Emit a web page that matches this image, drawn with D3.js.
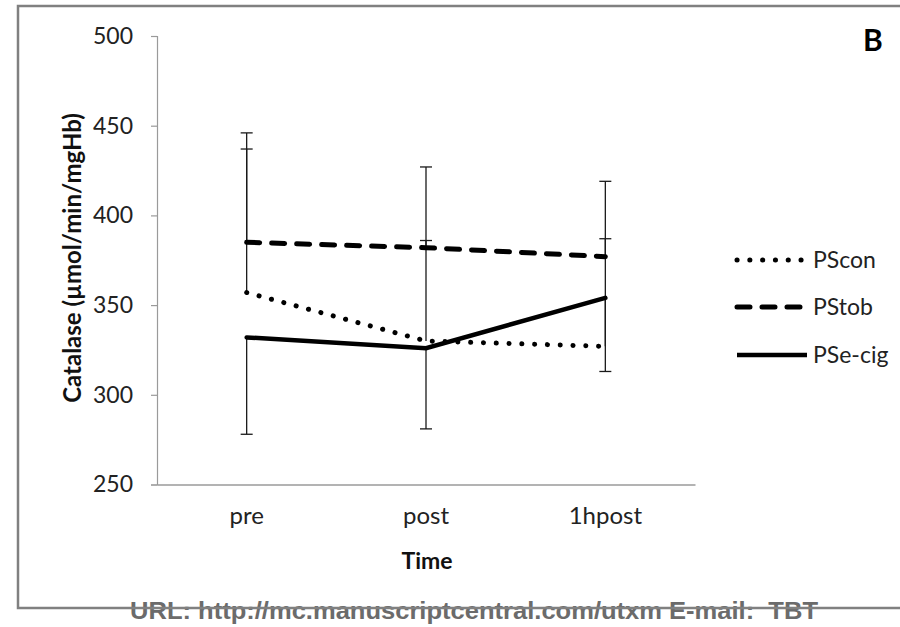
<!DOCTYPE html>
<html>
<head>
<meta charset="utf-8">
<script src="https://cdn.jsdelivr.net/npm/d3@7"></script>
<style>
  body { margin: 0; background: #fff; }
  svg { display: block; }
</style>
</head>
<body>
<div id="chart"></div>
<script>
var categories = ["pre", "post", "1hpost"];
var seriesNames = ["PScon", "PStob", "PSe-cig"];
var psCon = [357, 330, 327];
var psTob = [385, 382, 377];
var psEcig = [332, 326, 354];
// error bar ends (upper for con/tob, lower for e-cig)
var psConErr = [437, 386, 387];
var psTobErr = [446, 427, 419];
var psEcigErr = [278, 281, 313];
var yTicks = [250, 300, 350, 400, 450, 500];

var svgWidth = 900;
var svgHeight = 627;

var svg = d3.select("#chart")
    .append("svg")
    .attr("width", svgWidth)
    .attr("height", svgHeight);

var font = "Lato, 'Open Sans', sans-serif";

var x = d3.scaleBand()
    .domain(categories)
    .range([157, 695]);

var y = d3.scaleLinear()
    .domain([250, 500])
    .range([484.5, 36]);

var cx = d => x(d) + x.bandwidth() / 2;

// y axis
var yAxis = svg.append("g")
    .attr("transform", "translate(157,0)")
    .call(d3.axisLeft(y).tickValues(yTicks).tickSize(6).tickPadding(18));
yAxis.selectAll("path, line").attr("stroke", "#9a9a9a").attr("stroke-width", 1.2);
yAxis.selectAll("text")
    .attr("font-family", font)
    .attr("font-size", "23px")
    .attr("fill", "#222");

// x axis
var xAxis = svg.append("g")
    .attr("transform", "translate(0,484.5)")
    .call(d3.axisBottom(x).tickSize(0).tickPadding(22).tickSizeOuter(0));
xAxis.select("path").attr("stroke", "#9a9a9a").attr("stroke-width", 1.5);
xAxis.selectAll("text")
    .attr("font-family", font)
    .attr("font-size", "24px")
    .attr("fill", "#222");

// axis titles
svg.append("text")
    .attr("x", 427)
    .attr("y", 569)
    .attr("text-anchor", "middle")
    .attr("font-family", font)
    .attr("font-weight", "bold")
    .attr("font-size", "23px")
    .attr("fill", "#111")
    .text("Time");

svg.append("text")
    .attr("transform", "translate(81,258) rotate(-90)")
    .attr("text-anchor", "middle")
    .attr("font-family", font)
    .attr("font-weight", "bold")
    .attr("font-size", "24px")
    .attr("fill", "#111")
    .text("Catalase (µmol/min/mgHb)");

// error bars
var errData = [];
[[psCon, psConErr], [psTob, psTobErr], [psEcig, psEcigErr]].forEach(function (pair) {
    categories.forEach(function (c, i) {
        errData.push({ cat: c, mean: pair[0][i], end: pair[1][i] });
    });
});

var errG = svg.append("g")
    .attr("stroke", "#1a1a1a")
    .attr("stroke-width", 1.3);

errG.selectAll("line.v")
    .data(errData)
    .enter()
    .append("line")
    .attr("x1", d => cx(d.cat))
    .attr("x2", d => cx(d.cat))
    .attr("y1", d => y(d.mean))
    .attr("y2", d => y(d.end));

errG.selectAll("line.cap")
    .data(errData)
    .enter()
    .append("line")
    .attr("x1", d => cx(d.cat) - 6)
    .attr("x2", d => cx(d.cat) + 6)
    .attr("y1", d => y(d.end))
    .attr("y2", d => y(d.end));

// lines
var styles = [
    { dash: "0.1 12.7", width: 5 },
    { dash: "13 12", width: 5 },
    { dash: null, width: 4.5 }
];
var allSeries = [psCon, psTob, psEcig];

var line = d3.line()
    .x((d, i) => cx(categories[i]))
    .y(d => y(d));

allSeries.forEach(function (vals, k) {
    svg.append("path")
        .datum(vals)
        .attr("d", line)
        .attr("fill", "none")
        .attr("stroke", "#000")
        .attr("stroke-width", styles[k].width)
        .attr("stroke-linecap", "round")
        .attr("stroke-dasharray", styles[k].dash);
});

// legend
var legendY = [260, 307, 355];
var legend = svg.append("g");
seriesNames.forEach(function (name, k) {
    legend.append("line")
        .attr("x1", 737)
        .attr("x2", 807)
        .attr("y1", legendY[k])
        .attr("y2", legendY[k])
        .attr("stroke", "#000")
        .attr("stroke-width", styles[k].width)
        .attr("stroke-linecap", k == 2 ? "butt" : "round")
        .attr("stroke-dasharray", styles[k].dash);
    legend.append("text")
        .attr("x", 813)
        .attr("y", legendY[k] + 8)
        .attr("font-family", font)
        .attr("font-size", "23px")
        .attr("fill", "#222")
        .text(name);
});

// panel letter
svg.append("text")
    .attr("x", 863)
    .attr("y", 51)
    .attr("font-family", font)
    .attr("font-weight", "bold")
    .attr("font-size", "30px")
    .attr("fill", "#000")
    .text("B");

// footer text and frame
svg.append("text")
    .attr("x", 130)
    .attr("y", 619)
    .attr("font-family", "'Liberation Sans', Arial, sans-serif")
    .attr("font-weight", "bold")
    .attr("font-size", "24px")
    .attr("fill", "#6b6b6b")
    .attr("textLength", 688)
    .attr("lengthAdjust", "spacingAndGlyphs")
    .style("white-space", "pre")
    .text("URL: http://mc.manuscriptcentral.com/utxm E-mail:  TBT");

svg.append("path")
    .attr("d", "M900,6H18V608H900")
    .attr("fill", "none")
    .attr("stroke", "#808080")
    .attr("stroke-width", 2.5);
</script>
</body>
</html>
